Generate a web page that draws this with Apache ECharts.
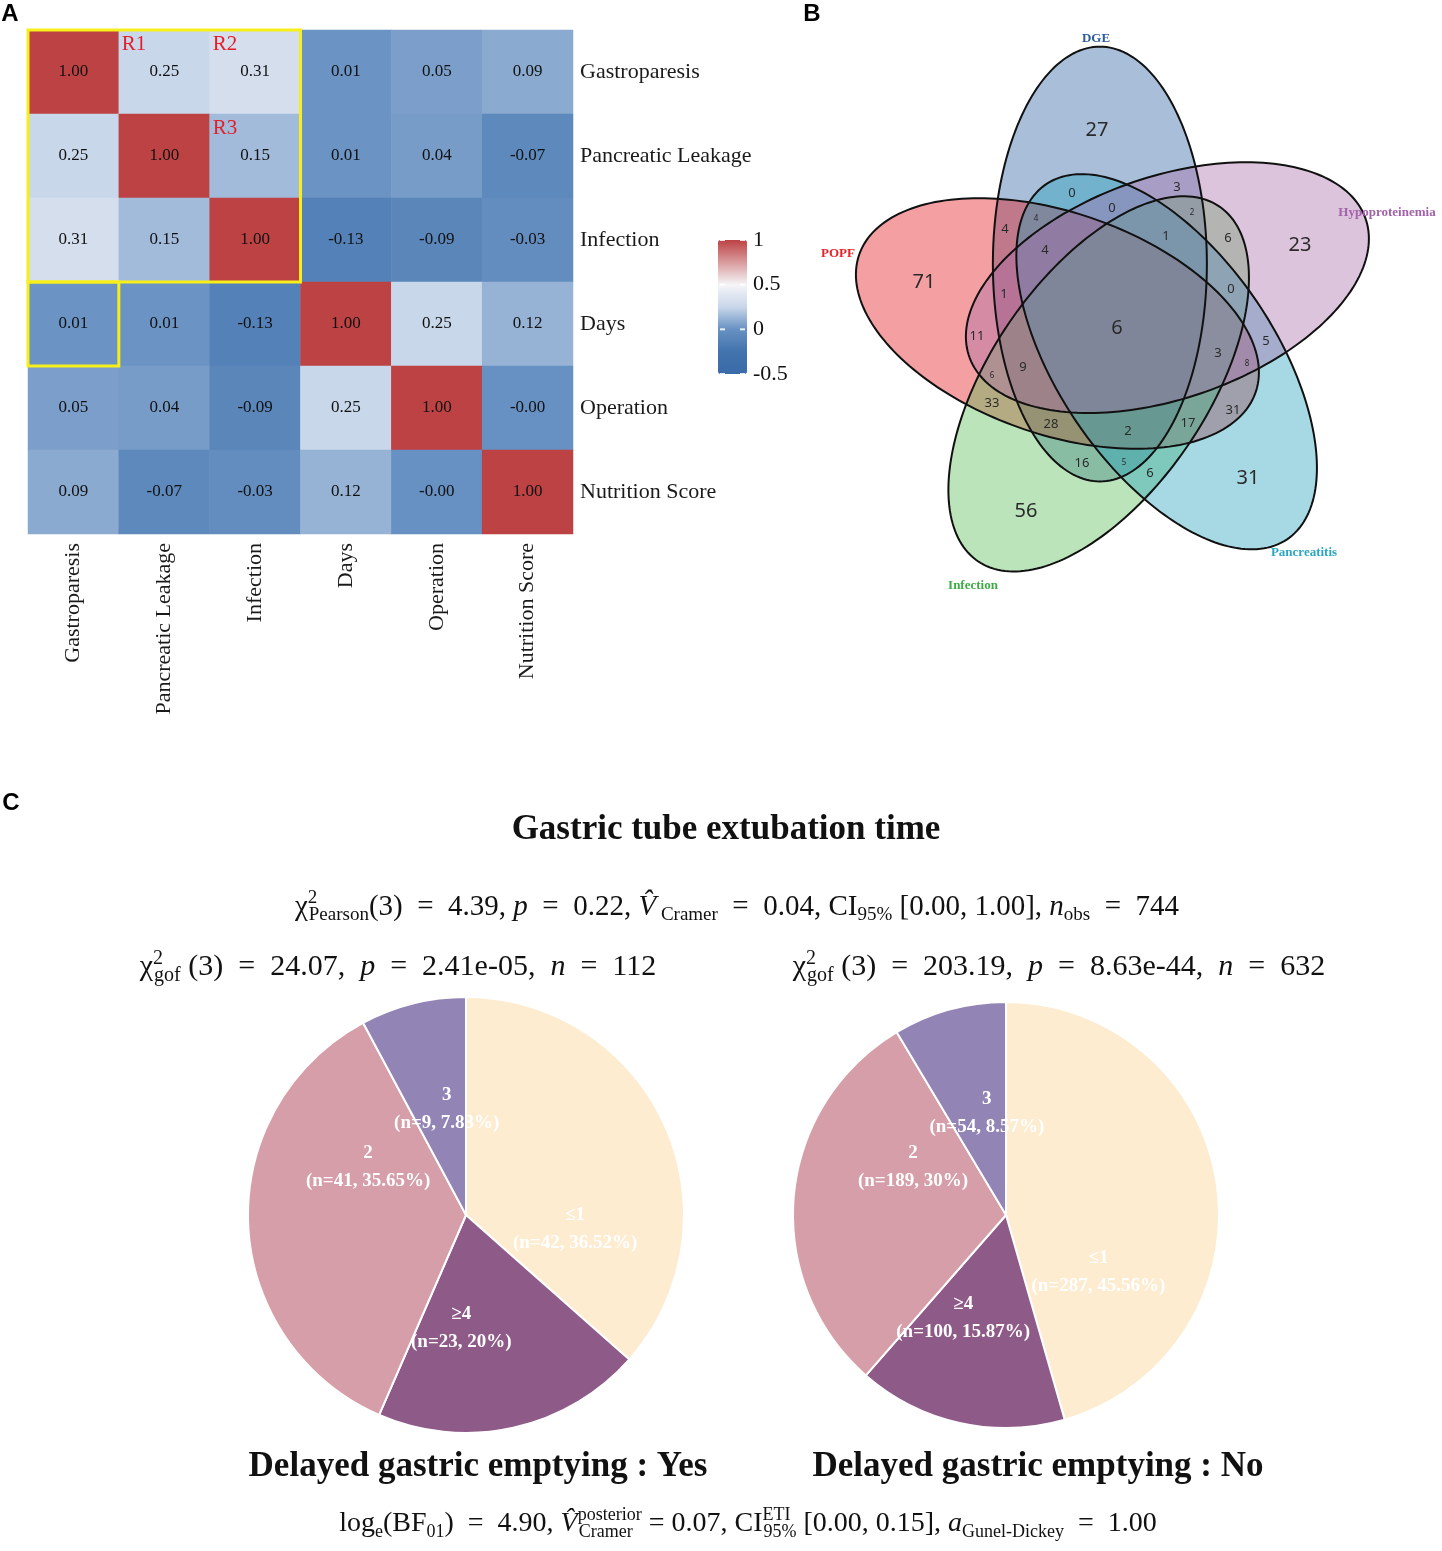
<!DOCTYPE html>
<html><head><meta charset="utf-8">
<script src="https://cdn.jsdelivr.net/npm/echarts@6/dist/echarts.min.js"></script>
<style>html,body{margin:0;padding:0;background:#fff}#c{width:1442px;height:1551px}</style>
</head><body><div id="c"></div>
<script>
// ---------------- DATA ----------------
const varNames = ['Gastroparesis','Pancreatic Leakage','Infection','Days','Operation','Nutrition Score'];
const corrRows = [
  [1.00, 0.25, 0.31, 0.01, 0.05, 0.09],
  [0.25, 1.00, 0.15, 0.01, 0.04, -0.07],
  [0.31, 0.15, 1.00, -0.13, -0.09, -0.03],
  [0.01, 0.01, -0.13, 1.00, 0.25, 0.12],
  [0.05, 0.04, -0.09, 0.25, 1.00, -0.003],
  [0.09, -0.07, -0.03, 0.12, -0.003, 1.00]
];
const colorbarTicks = [1, 0.5, 0, -0.5];
const highlightBoxes = [[0,0,2,2],[0,3,0,3]];
const regionTags = ['R1','R2','R3'];
const regionTagCells = [[1,0],[2,0],[2,1]];

const vennSets = ['DGE','Hypoproteinemia','Pancreatitis','Infection','POPF'];
const vennCounts = [27,23,31,56,71,6, 0,3,0,4,1,6,4,0,1,11,5,3,9,33,31,28,2,17,16,6, 4,2,8,6,5];

const pieCategories = ['\u22641','\u22654','2','3'];
const pieYes = [42,23,41,9];
const pieNo = [287,100,189,54];

// ---------------- LAYOUT / STYLE ----------------
const vennLabelPos = [[1097,130],[1300,245],[1248,478],[1026,511],[924,282],[1117,328],
  [1072,193],[1177,187],[1112,208],[1005,229],[1166,236],[1228,238],[1045,250],[1231,289],[1004,294],[977,336],
  [1266,341],[1218,353],[1023,367],[992,403],[1233,410],[1051,424],[1128,431],[1188,423],[1082,463],[1150,473],
  [1036,219],[1192,213],[1247,364],[992,376],[1124,463]];
const vennLabelSize = vennLabelPos.map((p,i)=> i<6 ? 20 : (i<26 ? 13 : 8));
const vennGeom = {cx:1118, cy:324, d:60.6, theta0:-107.4, beta0:90, a:209, b:107, yStretch:1.04, yRef:320};
const vennFill = ['rgb(40,95,160)','rgb(168,108,168)','rgb(33,160,188)','rgb(88,188,85)','rgb(228,18,23)'];
const vennDrawOrder = [0,4,3,2,1];
const vennNameColor = ['#2d5d9c','#a262aa','#2ba7c2','#3eab45','#e3242b'];
const vennNamePos = [[1096,39],[1387,213],[1304,553],[973,586],[838,254]];

const cb = {left:718, top:240, w:29, h:134, min:-0.5, max:1};
const pieColors = ['#feecd0','#8e5a88','#d59ea9','#9284b5'];
const yesLabelShift = [[7,60],[-29,4],[14,-52],[8,3]];
const noLabelShift = [[-16,72],[-19,-4],[16,-38],[10,4]];

const SERIF = 'Liberation Serif';

const heatData = [];
corrRows.forEach((row, y) => row.forEach((v, x) => heatData.push([x, y, v])));

function rich(size) {
  const s = Math.round(size*0.66);
  return {
    t: {fontFamily:SERIF, fontSize:size, fill:'#111', lineHeight:size+7, align:'left'},
    i: {fontFamily:SERIF, fontSize:size, fontStyle:'italic', fill:'#111', lineHeight:size+7, align:'left'},
    sup: {fontFamily:SERIF, fontSize:s, fill:'#111', verticalAlign:'top', lineHeight:s, align:'left'},
    sups: {fontFamily:SERIF, fontSize:s, fill:'#111', verticalAlign:'top', lineHeight:s, width:1, align:'left'},
    sub: {fontFamily:SERIF, fontSize:s, fill:'#111', verticalAlign:'bottom', lineHeight:s, align:'left'}
  };
}
function mathText(x, y, text, size) {
  return {type:'text', x:x, y:y, style:{text:text, rich:rich(size), align:'center', verticalAlign:'middle', fontFamily:SERIF, fontSize:size, fill:'#111'}};
}
const EQ = '  =  ';

const graphics = [];
[['A',10,14],['B',812,14],['C',11,803]].forEach(l => graphics.push({type:'text', x:l[1], y:l[2], style:{text:l[0], fontFamily:'Liberation Sans', fontWeight:'bold', fontSize:24, fill:'#000', align:'center', verticalAlign:'middle'}}));
vennSets.forEach((s,i) => graphics.push({type:'text', x:vennNamePos[i][0], y:vennNamePos[i][1], z:20, style:{text:s, fontFamily:SERIF, fontWeight:'bold', fontSize:13, fill:vennNameColor[i], align:'center', verticalAlign:'middle'}}));
colorbarTicks.forEach(v => {
  const y = cb.top + (cb.max - v) / (cb.max - cb.min) * cb.h;
  graphics.push({type:'text', x:cb.left+cb.w+6, y:y, style:{text:String(v), fontFamily:SERIF, fontSize:22, fill:'#111', align:'left', verticalAlign:'middle'}, z:10});
  graphics.push({type:'line', shape:{x1:cb.left+2, y1:y, x2:cb.left+7, y2:y}, style:{stroke:'rgba(255,255,255,0.85)', lineWidth:2}, z:10});
  graphics.push({type:'line', shape:{x1:cb.left+cb.w-7, y1:y, x2:cb.left+cb.w-2, y2:y}, style:{stroke:'rgba(255,255,255,0.85)', lineWidth:2}, z:10});
});
graphics.push({type:'text', x:726, y:830, style:{text:'Gastric tube extubation time', fontFamily:SERIF, fontWeight:'bold', fontSize:35, fill:'#111', align:'center', verticalAlign:'middle'}});
graphics.push(mathText(737, 907, '{t|\u03c7}{sups|2}{sub|Pearson}{t|(3)'+EQ+'4.39, }{i|p}{t|'+EQ+'0.22, }{i|V\u0302}{sub| Cramer}{t|'+EQ+'0.04, CI}{sub|95%}{t| [0.00, 1.00], }{i|n}{sub|obs}{t|'+EQ+'744}', 29));
graphics.push(mathText(398, 967, '{t|\u03c7}{sups|2}{sub|gof}{t| (3)'+EQ+'24.07,  }{i|p}{t|'+EQ+'2.41e-05,  }{i|n}{t|'+EQ+'112}', 30));
graphics.push(mathText(1059, 967, '{t|\u03c7}{sups|2}{sub|gof}{t| (3)'+EQ+'203.19,  }{i|p}{t|'+EQ+'8.63e-44,  }{i|n}{t|'+EQ+'632}', 30));
graphics.push({type:'text', x:478, y:1467, style:{text:'Delayed gastric emptying : Yes', fontFamily:SERIF, fontWeight:'bold', fontSize:35, fill:'#111', align:'center', verticalAlign:'middle'}});
graphics.push({type:'text', x:1038, y:1467, style:{text:'Delayed gastric emptying : No', fontFamily:SERIF, fontWeight:'bold', fontSize:35, fill:'#111', align:'center', verticalAlign:'middle'}});
graphics.push(mathText(748, 1524, '{t|log}{sub|e}{t|(BF}{sub|01}{t|)'+EQ+'4.90, }{i|V\u0302}{sups|posterior}{sub|Cramer  }{t| = 0.07, CI}{sups|ETI}{sub|95%}{t| [0.00, 0.15], }{i|a}{sub|Gunel-Dickey}{t|'+EQ+'1.00}', 28));

function pieSeries(center, radius, values, shift) {
  return {
    type:'pie', center:center, radius:radius, startAngle:90, clockwise:true, silent:true,
    data: pieCategories.map((c,i)=>({name:c, value:values[i], itemStyle:{color:pieColors[i]}})),
    itemStyle:{borderColor:'#fff', borderWidth:2},
    label:{show:true, position:'inside', formatter:'{b}\n(n={c}, {d}%)', color:'#fff', fontFamily:SERIF, fontWeight:'bold', fontSize:19, lineHeight:28},
    labelLine:{show:false},
    labelLayout: p => ({dx: shift[p.dataIndex][0], dy: shift[p.dataIndex][1]}),
    emphasis:{disabled:true}
  };
}

function ellipsePoints(i, api) {
  const g = vennGeom;
  const ang = (g.theta0 + 72*i) * Math.PI/180;
  const rot = (g.beta0 + 72*i) * Math.PI/180;
  const cx = g.cx + g.d*Math.cos(ang), cy = g.cy + g.d*Math.sin(ang);
  const pts = [];
  for (let k=0;k<200;k++){
    const t = k/200*2*Math.PI;
    const u = g.a*Math.cos(t), v = g.b*Math.sin(t);
    const yt = cy + u*Math.sin(rot) + v*Math.cos(rot);
    pts.push(api.coord([cx + u*Math.cos(rot) - v*Math.sin(rot), g.yRef + g.yStretch*(yt - g.yRef)]));
  }
  return pts;
}

const option = {
  animation:false,
  backgroundColor:'#fff',
  grid:[
    {left:28, top:30, width:545, height:504},
    {left:800, top:20, width:640, height:580}
  ],
  xAxis:[
    {type:'category', gridIndex:0, data:varNames, position:'bottom', axisLine:{show:false}, axisTick:{show:false}, splitLine:{show:false},
     axisLabel:{rotate:90, margin:9, fontFamily:SERIF, fontSize:22, color:'#1a1a1a'}},
    {type:'value', gridIndex:1, min:800, max:1440, show:false}
  ],
  yAxis:[
    {type:'category', gridIndex:0, data:varNames, inverse:true, position:'right', axisLine:{show:false}, axisTick:{show:false}, splitLine:{show:false},
     axisLabel:{margin:7, fontFamily:SERIF, fontSize:22, color:'#1a1a1a'}},
    {type:'value', gridIndex:1, min:20, max:600, inverse:true, show:false}
  ],
  visualMap:{type:'continuous', seriesIndex:0, min:cb.min, max:cb.max, calculable:false, orient:'vertical',
    left:cb.left, top:cb.top, itemWidth:cb.w, itemHeight:cb.h, padding:0, text:null,
    inRange:{color:['#3b6ba8','#4273ad','#6791c2','#c9d7ea','#f5f5f7','#d99b9d','#bd4244']}},
  graphic: graphics,
  series:[
    {type:'heatmap', xAxisIndex:0, yAxisIndex:0, data:heatData, silent:true,
     label:{show:true, formatter:p=>p.value[2].toFixed(2), fontFamily:SERIF, fontSize:17, color:'#111'},
     itemStyle:{borderWidth:0}, emphasis:{disabled:true}},
    {type:'custom', xAxisIndex:0, yAxisIndex:0, data:highlightBoxes, silent:true, z:10,
     renderItem:(params, api)=>{
       const p0 = api.coord([api.value(0), api.value(1)]);
       const p1 = api.coord([api.value(2), api.value(3)]);
       const s = api.size([1,1]);
       return {type:'rect', shape:{x:p0[0]-s[0]/2, y:p0[1]-s[1]/2, width:p1[0]-p0[0]+s[0], height:p1[1]-p0[1]+s[1]},
               style:{fill:'none', stroke:'#f7ef1a', lineWidth:3}};
     }},
    {type:'custom', xAxisIndex:0, yAxisIndex:0, data:regionTagCells, silent:true, z:11,
     renderItem:(params, api)=>{
       const p = api.coord([api.value(0), api.value(1)]);
       const s = api.size([1,1]);
       return {type:'text', x:p[0]-s[0]/2+3, y:p[1]-s[1]/2+4,
               style:{text:regionTags[params.dataIndex], fontFamily:SERIF, fontSize:21, fill:'#e3202a', align:'left', verticalAlign:'top'}};
     }},
    {type:'custom', xAxisIndex:1, yAxisIndex:1, data:vennDrawOrder.map(i=>[i]), silent:true, z:2,
     renderItem:(params, api)=>{
       const i = api.value(0);
       return {type:'polygon', shape:{points:ellipsePoints(i, api)}, style:{fill:vennFill[i], opacity:0.4, stroke:'none'}};
     }},
    {type:'custom', xAxisIndex:1, yAxisIndex:1, data:vennSets.map((s,i)=>[i]), silent:true, z:3,
     renderItem:(params, api)=>{
       const i = api.value(0);
       return {type:'polygon', shape:{points:ellipsePoints(i, api)}, style:{fill:'none', stroke:'#111', lineWidth:2}};
     }},
    {type:'custom', xAxisIndex:1, yAxisIndex:1, silent:true, z:4,
     data: vennCounts.map((c,i)=>[vennLabelPos[i][0], vennLabelPos[i][1], c]),
     renderItem:(params, api)=>{
       const p = api.coord([api.value(0), api.value(1)]);
       return {type:'text', x:p[0], y:p[1], style:{text:String(api.value(2)), fontFamily:'Noto Sans', fontSize:vennLabelSize[params.dataIndex], fill:'#2a2a2a', align:'center', verticalAlign:'middle'}};
     }},
    pieSeries([466,1215], 218, pieYes, yesLabelShift),
    pieSeries([1006,1215], 213, pieNo, noLabelShift)
  ]
};
const chart = echarts.init(document.getElementById('c'), null, {renderer:'canvas'});
chart.setOption(option);
</script>
</body></html>
